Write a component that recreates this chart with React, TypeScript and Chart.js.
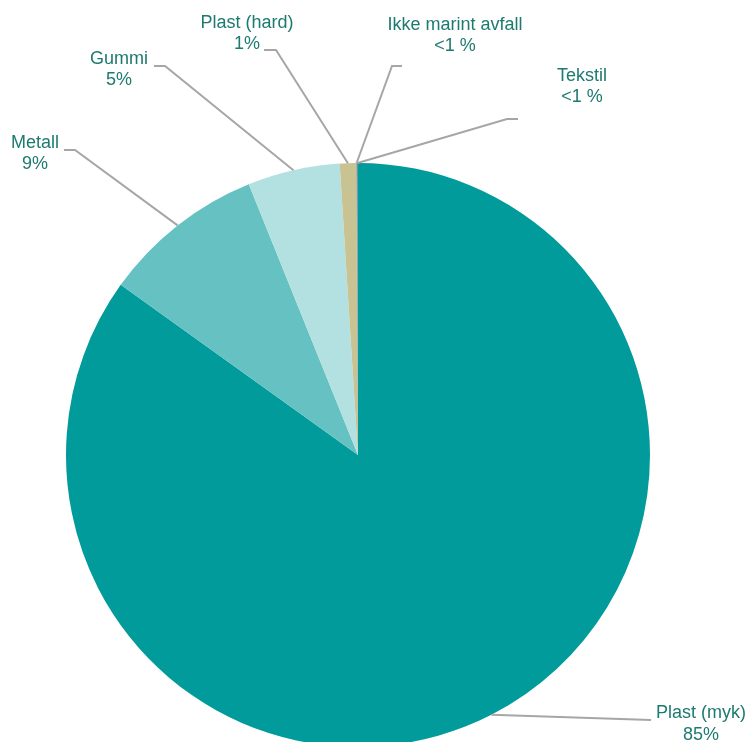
import React, { useEffect, useRef } from "react";
import { Chart, registerables } from "chart.js";

Chart.register(...registerables);

const categories = ["Plast (myk)", "Metall", "Gummi", "Plast (hard)", "Ikke marint avfall", "Tekstil"];
const values = [84.9, 9.0, 5.1, 0.9, 0.05, 0.05];
const percentLabels = ["85%", "9%", "5%", "1%", "<1 %", "<1 %"];

const colors = ["#009B9A", "#66C2C2", "#B3E0E0", "#C9C292", "#8FA8A8", "#5E8C8C"];

// label layout (pixel positions of text centres and leader elbows)
const labelLayout = [
  { x: 701, y1: 713, y2: 735, path: [[651, 720]] },
  { x: 35, y1: 143.5, y2: 164, path: [[75, 150], [64, 150]] },
  { x: 119, y1: 59.5, y2: 80.5, path: [[165, 66], [154, 66]] },
  { x: 247, y1: 23, y2: 44, path: [[276, 50], [264, 50]] },
  { x: 455, y1: 25.5, y2: 46.5, path: [[392, 66], [402, 66]] },
  { x: 582, y1: 76, y2: 97.5, path: [[507, 119], [518, 119]] },
];

const leaderPlugin = {
  id: "leaders",
  afterDraw(chart: any) {
    const ctx = chart.ctx;
    const meta = chart.getDatasetMeta(0);
    ctx.save();
    meta.data.forEach((arc: any, i: number) => {
      const p = arc.getProps(["x", "y", "startAngle", "endAngle", "outerRadius"], true);
      const mid = (p.startAngle + p.endAngle) / 2;
      const sx = p.x + Math.cos(mid) * p.outerRadius;
      const sy = p.y + Math.sin(mid) * p.outerRadius;
      const lay = labelLayout[i];
      ctx.beginPath();
      ctx.strokeStyle = "#A6A6A6";
      ctx.lineWidth = 2;
      ctx.lineJoin = "miter";
      ctx.moveTo(sx, sy);
      lay.path.forEach((pt) => ctx.lineTo(pt[0], pt[1]));
      ctx.stroke();
      ctx.fillStyle = "#1D7A70";
      ctx.font = "18px 'Liberation Sans', Arial, sans-serif";
      ctx.textAlign = "center";
      ctx.textBaseline = "middle";
      ctx.fillText(categories[i], lay.x, lay.y1);
      ctx.fillText(percentLabels[i], lay.x, lay.y2);
    });
    ctx.restore();
  },
};

export default function App() {
  const ref = useRef<HTMLCanvasElement>(null);
  useEffect(() => {
    if (!ref.current) return;
    const chart = new Chart(ref.current, {
      type: "pie",
      data: {
        labels: categories,
        datasets: [
          {
            data: values,
            backgroundColor: colors,
            borderWidth: 0,
          },
        ],
      },
      options: {
        responsive: false,
        animation: false,
        devicePixelRatio: 1,
        layout: { padding: { left: 66, right: 100, top: 163, bottom: 53 } },
        plugins: {
          legend: { display: false },
          tooltip: { enabled: false },
        },
      },
      plugins: [leaderPlugin],
    });
    return () => chart.destroy();
  }, []);
  return (
    <div style={{ position: "fixed", left: 0, top: 0, width: 750, height: 800, background: "#fff" }}>
      <canvas ref={ref} width={750} height={800} style={{ width: 750, height: 800 }} />
    </div>
  );
}
